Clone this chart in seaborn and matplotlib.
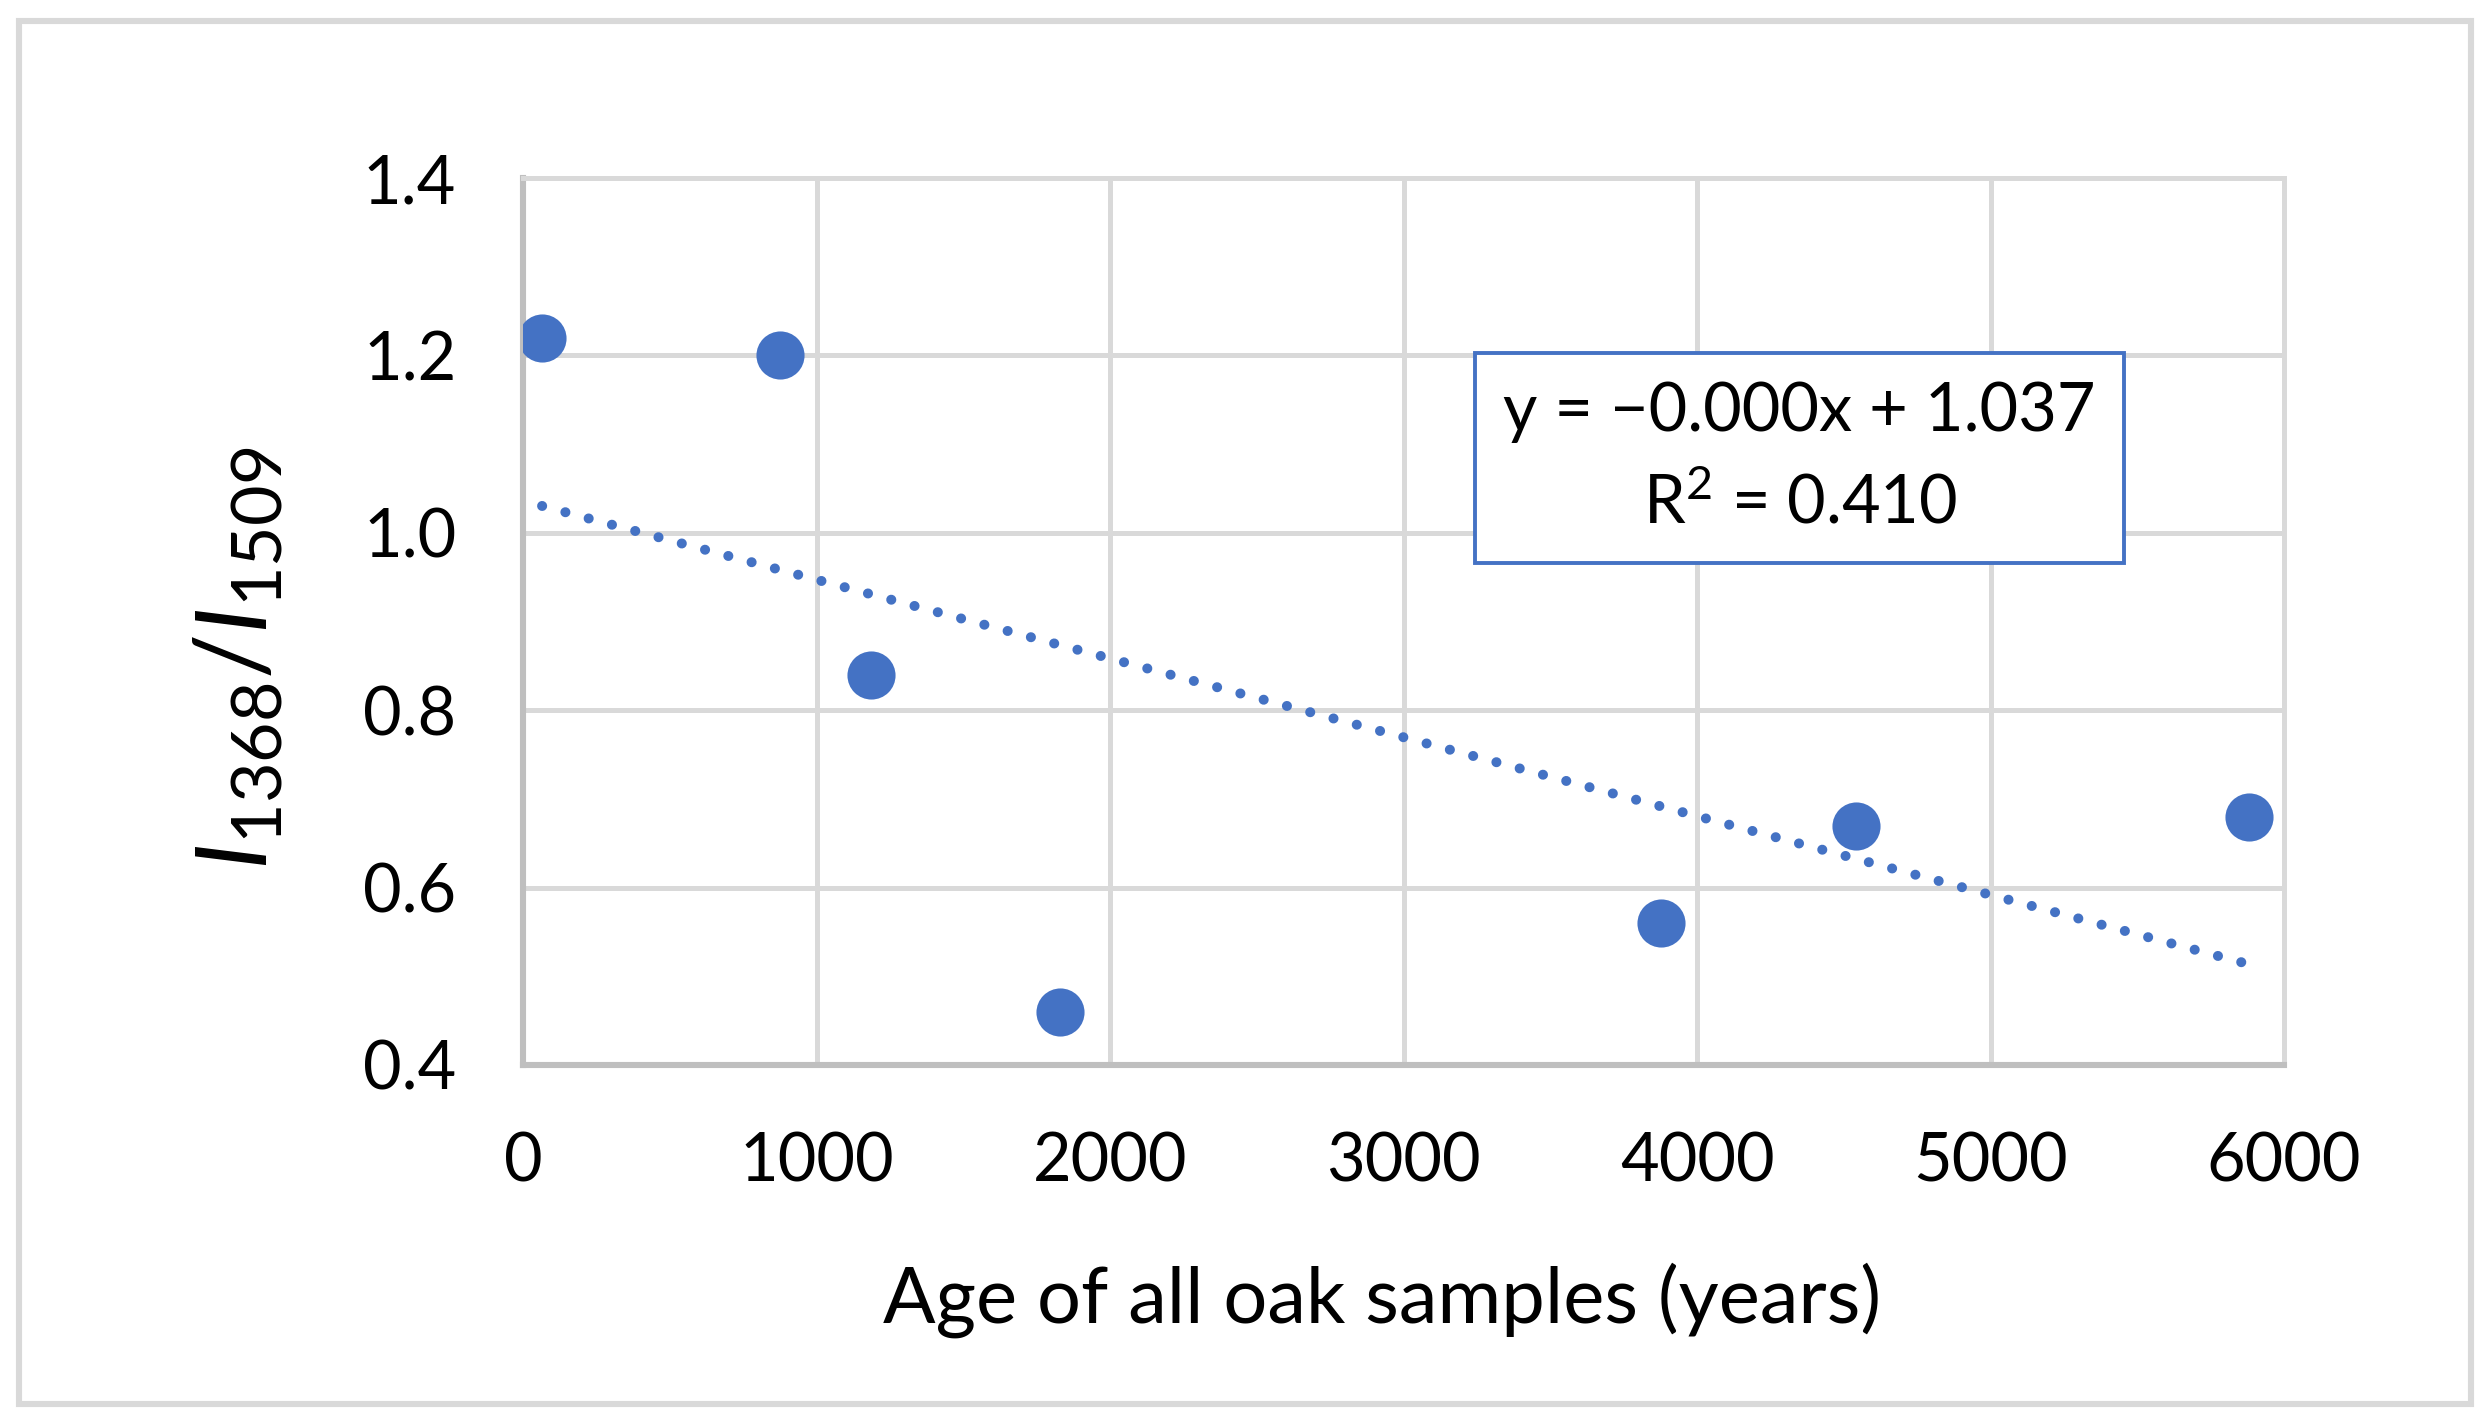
import numpy as np
import pandas as pd
import matplotlib
matplotlib.use("Agg")
import matplotlib.pyplot as plt
from matplotlib.patches import Rectangle
import seaborn as sns

# Data
age_years = [65, 877, 1186, 1830, 3877, 4543, 5881]
intensity_ratio = [1.22, 1.20, 0.84, 0.46, 0.56, 0.67, 0.68]
x_ticks = [0, 1000, 2000, 3000, 4000, 5000, 6000]
y_ticks = [0.4, 0.6, 0.8, 1.0, 1.2, 1.4]
x_label = "Age of all oak samples (years)"
y_label = r"$\mathit{I}_{1368}/\mathit{I}_{1509}$"
eq_text = "y = \u22120.000x + 1.037\nR$^{2}$ = 0.410"

df = pd.DataFrame({"age": age_years, "ratio": intensity_ratio})

sns.set_theme(style="white")
plt.rcParams["font.family"] = ["Lato", "DejaVu Sans"]
plt.rcParams["mathtext.fontset"] = "custom"
plt.rcParams["mathtext.rm"] = "Lato"
plt.rcParams["mathtext.it"] = "Lato:italic"

blue = "#4472C4"
grid_c = "#D9D9D9"
spine_c = "#BFBFBF"

fig = plt.figure(figsize=(12.46, 7.115), dpi=200)
fig.patch.set_facecolor("white")
ax = fig.add_axes([523 / 2492, 1 - 1065 / 1423, 1761 / 2492, 887 / 1423])

# trendline (linear regression, dotted)
sns.regplot(data=df, x="age", y="ratio", ax=ax, scatter=False, ci=None,
            color=blue, truncate=True,
            line_kws=dict(lw=3.6, ls=(0, (0.01, 2.4)), dash_capstyle="round", zorder=3))
sns.scatterplot(data=df, x="age", y="ratio", ax=ax, s=300, color=blue,
                edgecolor=blue, linewidth=0, zorder=4)

ax.set_xlim(0, 6000)
ax.set_ylim(0.4, 1.4)
ax.set_xticks(x_ticks)
ax.set_yticks(y_ticks)
ax.set_xticklabels([str(v) for v in x_ticks])
ax.set_yticklabels([f"{v:.1f}" for v in y_ticks])
ax.tick_params(axis="both", length=0, labelsize=24, colors="black")
ax.tick_params(axis="y", pad=24)
ax.tick_params(axis="x", pad=24)

ax.grid(True, color=grid_c, lw=1.8)
ax.set_axisbelow(True)
for s in ["top", "right"]:
    ax.spines[s].set_color(grid_c)
    ax.spines[s].set_linewidth(1.8)
for s in ["left", "bottom"]:
    ax.spines[s].set_color(spine_c)
    ax.spines[s].set_linewidth(2.2)

ax.set_xlabel(x_label, fontsize=28, color="black")
ax.set_ylabel(y_label, fontsize=36, color="black")
ax.yaxis.set_label_coords(-0.135, 0.458)
ax.xaxis.set_label_coords(0.488, -0.222)

# equation box
ax.text(0.725, 0.684, eq_text, transform=ax.transAxes, ha="center", va="center",
        fontsize=24, linespacing=1.55, color="black", zorder=5,
        bbox=dict(boxstyle="square,pad=0.42", facecolor="white", edgecolor=blue, lw=1.4))

# outer frame
fig.patches.append(Rectangle((19 / 2492, 19 / 1423), (2471 - 19) / 2492, (1402 - 19) / 1423,
                             transform=fig.transFigure, fill=False, edgecolor=grid_c, lw=2.2))

fig.savefig("out.png", dpi=200, facecolor="white")
